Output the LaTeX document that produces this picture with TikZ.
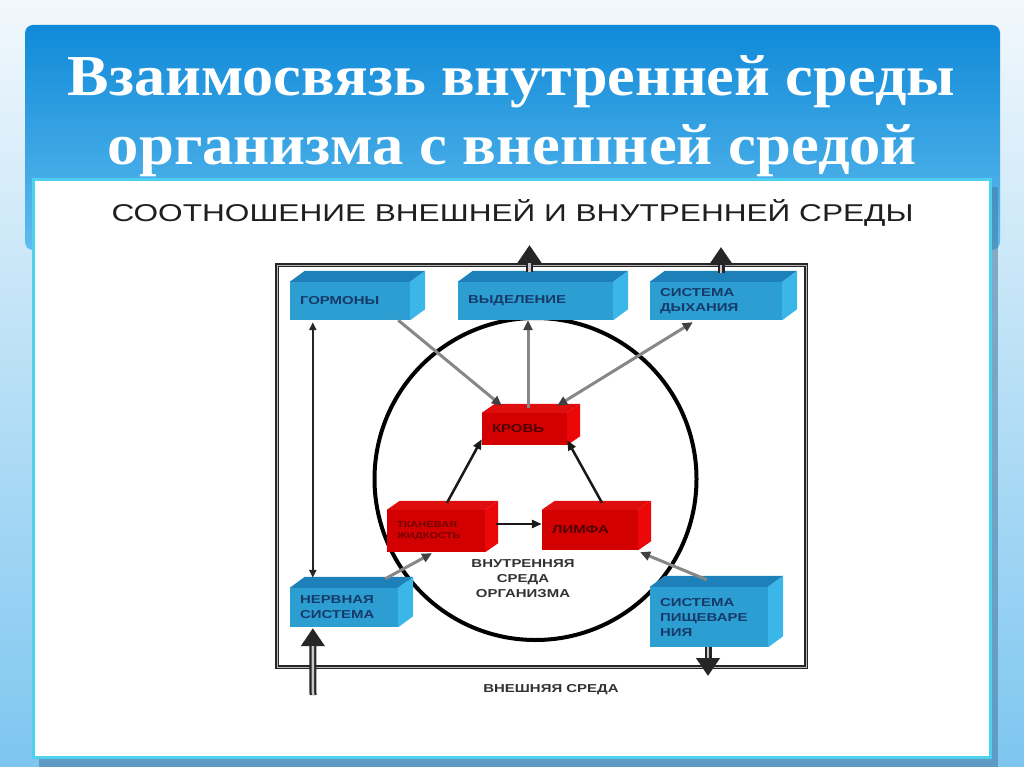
\documentclass[tikz,border=0pt]{standalone}
\usepackage{fontspec}
\usepackage{graphicx}
\setmainfont{Liberation Serif}
\newfontfamily\lsans{Liberation Sans}
\usetikzlibrary{arrows.meta,calc}
\definecolor{bgtop}{RGB}{242,248,252}
\definecolor{bgbot}{RGB}{125,198,240}
\definecolor{bantop}{RGB}{16,138,216}
\definecolor{banbot}{RGB}{95,188,238}
\definecolor{panelb}{RGB}{78,208,240}
\definecolor{pshadow}{RGB}{70,120,160}
\definecolor{bfront}{RGB}{44,158,210}
\definecolor{btop}{RGB}{30,128,185}
\definecolor{bside}{RGB}{58,182,232}
\definecolor{btext}{RGB}{22,58,105}
\definecolor{rfront}{RGB}{210,0,0}
\definecolor{rtop}{RGB}{222,14,14}
\definecolor{rside}{RGB}{236,8,8}
\definecolor{rtext}{RGB}{80,0,0}
\definecolor{garrow}{RGB}{135,135,135}
\definecolor{dtext}{RGB}{50,50,50}
\newcommand\sx[1]{\scalebox{1.3}[1]{#1}}
\newcommand\cuboid[8]{%
  \node[#3] (#1) at #2 {#8};
  \fill[#4] (#1.north west) -- ([xshift=#6pt,yshift=#7pt]#1.north west) -- ([xshift=#6pt,yshift=#7pt]#1.north east) -- (#1.north east) -- cycle;
  \fill[#5] (#1.north east) -- ([xshift=#6pt,yshift=#7pt]#1.north east) -- ([xshift=#6pt,yshift=#7pt]#1.south east) -- (#1.south east) -- cycle;}
\begin{document}
\begin{tikzpicture}[x=1pt,y=-1pt,
  bcube/.style={fill=bfront, text=btext, font=\lsans\bfseries\fontsize{11.5}{15}\selectfont, align=left, inner xsep=10pt, inner ysep=0pt},
  rcube/.style={fill=rfront, text=rtext, font=\lsans\bfseries\fontsize{11.5}{15}\selectfont, align=left, inner xsep=10pt, inner ysep=0pt},
  garr/.style={draw=garrow, line width=3pt, -{Triangle[length=10pt,width=9pt,color=black!75]}},
  garrboth/.style={draw=garrow, line width=3pt, {Triangle[length=10pt,width=9pt,color=black!75]}-{Triangle[length=10pt,width=9pt,color=black!75]}},
  barr/.style={draw=black!90, line width=2.5pt, -{Triangle[length=10pt,width=8pt]}},
  varr/.style={draw=black!85, line width=2pt, {Triangle[length=8pt,width=7pt]}-{Triangle[length=8pt,width=7pt]}},
  bigarr/.style={draw=black!85, line width=7pt, -{Triangle[length=18pt,width=23pt]}, postaction={draw=gray!45, line width=2.5pt, -, shorten >=18pt}},
  lbl/.style={text=dtext, font=\lsans\bfseries\fontsize{11.5}{15}\selectfont, align=center, inner sep=0pt},
  ttl/.style={anchor=base, inner sep=0pt, text=white, font=\bfseries\fontsize{58}{69}\selectfont}
]
\useasboundingbox (0,0) rectangle (1024,767);
% background
\shade[top color=bgtop, bottom color=bgbot] (0,0) rectangle (1024,767);
% title banner
\shade[top color=bantop, bottom color=banbot, rounded corners=8pt] (25,25) rectangle (1000,250);
\node[ttl] (title1) at (511.5,96) {\resizebox{887pt}{\height}{Взаимосвязь внутренней среды}};
\node[ttl] (title2) at (512.5,165) {\resizebox{809pt}{\height}{организма с внешней средой}};
% panel
\fill[pshadow, opacity=0.55] (39,187) rectangle (998,767);
\draw[panelb, line width=3pt, fill=white] (33,180) rectangle (990,757);
\node[anchor=base, inner sep=0pt, text=black!88, font=\lsans\fontsize{24.3}{29}\selectfont] (sub) at (512.5,222) {\sx{СООТНОШЕНИЕ ВНЕШНЕЙ И ВНУТРЕННЕЙ СРЕДЫ}};
% frame and circle
\draw[draw=black!85, line width=1.3pt, double=gray!55, double distance=1pt] (277,265) rectangle (806,667);
\draw[line width=4pt] (535.5,479) circle[radius=161];
% boxes
\cuboid{gorm}{(350,301)}{bcube, text width=100pt, minimum height=38pt}{btop}{bside}{15}{11}{\sx{ГОРМОНЫ}}
\cuboid{vyd}{(535.5,301)}{bcube, text width=135pt, minimum height=38pt}{btop}{bside}{15}{11}{\sx{ВЫДЕЛЕНИЕ}}
\cuboid{dyh}{(716,301)}{bcube, text width=112pt, minimum height=38pt}{btop}{bside}{15}{11}{\sx{СИСТЕМА}\\\sx{ДЫХАНИЯ}}
\cuboid{nerv}{(344,607.5)}{bcube, text width=88pt, minimum height=39pt}{btop}{bside}{15}{11}{\sx{НЕРВНАЯ}\\\sx{СИСТЕМА}}
\cuboid{pish}{(709,617)}{bcube, text width=98pt, minimum height=60pt}{btop}{bside}{15}{11}{\sx{СИСТЕМА}\\\sx{ПИЩЕВАРЕ}\\\sx{НИЯ}}
\cuboid{krov}{(524.5,429)}{rcube, text width=65pt, minimum height=32pt}{rtop}{rside}{13}{9}{\sx{КРОВЬ}}
\cuboid{limf}{(590,530)}{rcube, text width=76pt, minimum height=40pt}{rtop}{rside}{13}{9}{\sx{ЛИМФА}}
\cuboid{tkan}{(436,531)}{rcube, text=rtext!80!red, text width=78pt, minimum height=42pt, font=\lsans\bfseries\fontsize{8.5}{11}\selectfont}{rtop}{rside}{13}{9}{\sx{ТКАНЕВАЯ}\\\sx{ЖИДКОСТЬ}}
% labels
\node[lbl] (inner) at (523,579) {\sx{ВНУТРЕННЯЯ}\\\sx{СРЕДА}\\\sx{ОРГАНИЗМА}};
\node[lbl, anchor=base] (outer) at (551,692) {\sx{ВНЕШНЯЯ СРЕДА}};
% connectors
\draw[garr] ([xshift=-12pt]gorm.south east) -- ([xshift=20pt,yshift=7pt]krov.north west);
\draw[garr] ([xshift=3.5pt,yshift=5pt]krov.north) -- ([xshift=-7.5pt]vyd.south);
\draw[garrboth] ([xshift=-10pt,yshift=7pt]krov.north east) -- ([xshift=43pt,yshift=-2pt]dyh.south west);
\draw[barr] ([xshift=11pt,yshift=7pt]tkan.north) -- ([yshift=6pt]krov.south west);
\draw[barr] ([xshift=12pt,yshift=7pt]limf.north) -- ([yshift=5pt]krov.south east);
\draw[barr] ([xshift=11pt,yshift=7pt]tkan.east) -- ([yshift=6pt]limf.west);
\draw[garr] ([xshift=-13pt,yshift=9pt]nerv.north east) -- ([xshift=-4pt,yshift=-1pt]tkan.south);
\draw[garr] ([xshift=57pt,yshift=7pt]pish.north west) -- ([xshift=2pt,yshift=-2pt]limf.south east);
\draw[varr] ([xshift=23pt,yshift=-2pt]gorm.south west) -- ([xshift=23pt,yshift=10pt]nerv.north west);
\coordinate (inN) at (313,695);
\draw[bigarr] (inN) -- ([xshift=23pt,yshift=-1pt]nerv.south west);
\coordinate (outP) at (708,676);
\draw[bigarr] ([xshift=-1pt]pish.south) -- (outP);
\coordinate (outV) at (529.5,245);
\draw[bigarr] ([xshift=-6pt,yshift=10pt]vyd.north) -- (outV);
\coordinate (outD) at (721,247);
\draw[bigarr] ([xshift=5pt,yshift=9pt]dyh.north) -- (outD);
\end{tikzpicture}
\end{document}
